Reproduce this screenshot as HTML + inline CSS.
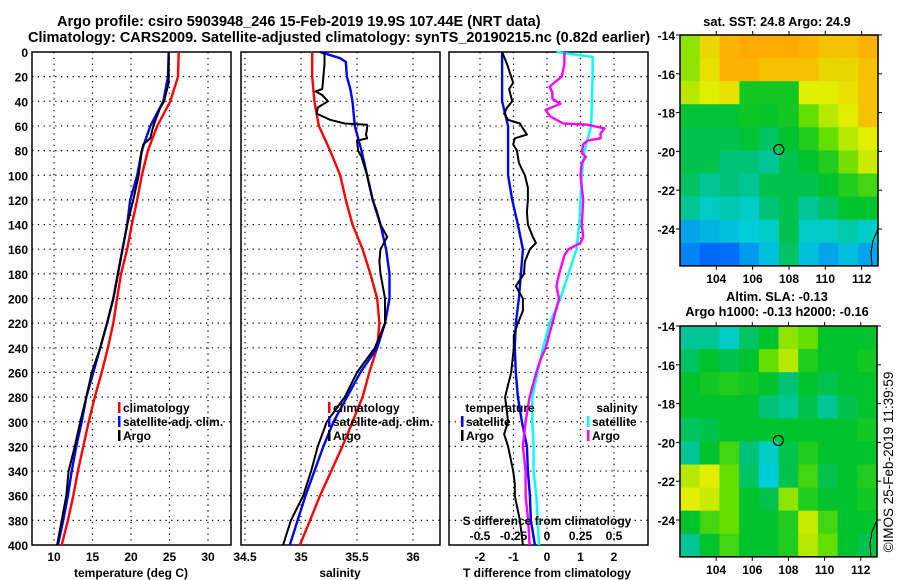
<!DOCTYPE html>
<html><head><meta charset="utf-8"><style>
html,body{margin:0;padding:0;background:#fff;}
svg{display:block;font-family:"Liberation Sans",sans-serif;font-weight:bold;}
</style></head><body>
<svg id="c" width="900" height="580" viewBox="0 0 900 580">
<text x="57" y="26" font-size="14.5" text-anchor="start">Argo profile: csiro 5903948_246 15-Feb-2019 19.9S 107.44E (NRT data)</text>
<text x="28" y="42" font-size="14.5" text-anchor="start">Climatology: CARS2009. Satellite-adjusted climatology: synTS_20190215.nc (0.82d earlier)</text>
<text x="777" y="26" font-size="12.8" text-anchor="middle">sat. SST: 24.8 Argo: 24.9</text>
<text x="777" y="301" font-size="12.8" text-anchor="middle">Altim. SLA: -0.13</text>
<text x="777" y="316" font-size="12.8" text-anchor="middle">Argo h1000: -0.13 h2000: -0.16</text>
<text transform="translate(893,462) rotate(-90)" font-size="13.5" font-weight="normal" text-anchor="middle">©IMOS 25-Feb-2019 11:39:59</text>
<g id="g"></g>
</svg>
<script>
// ---- data ----
const depths = [0,20,40,60,80,100,120,140,160,180,200,220,240,260,280,300,320,340,360,380,400];
const tClim = [26.2,26.1,25.1,23.4,22.2,21.4,20.8,20.1,19.5,18.7,18.2,17.7,17.0,16.2,15.3,14.5,13.8,13.1,12.5,11.8,11.0];
const tSat  = [24.9,24.8,24.2,22.5,21.4,20.8,19.9,19.5,18.9,18.3,17.7,16.9,16.0,15.1,14.2,13.6,12.9,12.3,11.8,11.2,10.5];
const argoDepthsT = [0,20,25,40,45,60,65,70,75,80,100,120,140,160,180,200,220,240,260,280,300,320,340,360,380,400];
const tArgo = [24.9,24.9,24.9,24.3,23.8,22.9,22.7,22.5,21.6,21.4,21.0,20.3,19.5,18.9,18.3,17.7,16.9,16.0,14.9,14.2,13.4,12.7,11.9,11.6,11.0,10.4];
const sClim = [35.10,35.10,35.12,35.16,35.26,35.35,35.40,35.46,35.55,35.62,35.68,35.70,35.68,35.61,35.55,35.46,35.37,35.27,35.17,35.08,34.99];
const sDepthsSat = [0,5,8,20,30,40,60,80,100,120,140,160,180,200,220,240,260,280,300,320,340,360,380,400];
const sSat = [35.17,35.35,35.40,35.41,35.44,35.46,35.48,35.54,35.59,35.64,35.71,35.76,35.79,35.79,35.75,35.68,35.53,35.41,35.29,35.20,35.12,35.04,34.97,34.90];
const argoDepthsS = [0,2,10,30,32,35,40,45,50,55,58,59,62,67,70,72,80,85,100,120,130,140,150,160,170,180,190,200,220,240,260,280,300,320,340,360,380,400];
const sArgo = [35.19,35.21,35.21,35.19,35.13,35.19,35.24,35.15,35.14,35.26,35.39,35.59,35.59,35.58,35.59,35.50,35.51,35.54,35.59,35.64,35.68,35.71,35.77,35.71,35.70,35.71,35.73,35.75,35.75,35.66,35.50,35.39,35.23,35.15,35.09,35.02,34.91,34.84];
const dTSat = [-1.34,-1.34,-1.34,-1.16,-1.16,-1.16,-1.04,-0.87,-0.72,-0.78,-0.84,-0.93,-0.96,-0.93,-0.87,-0.75,-0.60,-0.57,-0.51,-0.48,-0.36];
const dTArgoDepths = [0,10,20,25,30,40,45,50,55,58,62,67,70,75,80,90,100,110,120,130,140,150,155,160,170,180,190,200,210,220,230,240,260,270,280,300,310,320,340,350,360,380,400];
const dTArgo = [-1.34,-1.19,-1.07,-1.01,-1.13,-1.04,-1.19,-1.28,-1.16,-0.81,-0.72,-0.60,-0.96,-1.01,-0.90,-0.84,-0.66,-0.57,-0.57,-0.60,-0.57,-0.42,-0.33,-0.51,-0.66,-0.69,-0.93,-0.72,-0.72,-0.87,-0.99,-0.99,-1.07,-1.16,-1.25,-1.16,-1.28,-1.16,-1.01,-0.96,-0.96,-0.81,-0.72];
const dSSat = [0.07,0.34,0.34,0.33,0.28,0.26,0.25,0.24,0.22,0.16,0.10,0.02,-0.03,-0.07,-0.11,-0.11,-0.10,-0.10,-0.08,-0.07,-0.06];
const dSSatDepths = [0,4,20,60,80,100,120,140,160,180,200,220,240,260,280,300,320,340,360,380,400];
const dSArgoDepths = [0,10,20,28,33,38,42,47,52,58,59,62,66,70,72,75,82,85,90,100,120,140,150,155,160,165,180,190,200,220,240,250,260,280,300,320,340,360,380,400];
const dSArgo = [0.13,0.13,0.11,0.02,0.04,0.04,0.10,-0.01,0.02,0.12,0.30,0.43,0.40,0.40,0.30,0.27,0.26,0.29,0.26,0.25,0.27,0.26,0.27,0.25,0.16,0.13,0.09,0.07,0.09,0.04,-0.01,-0.05,-0.08,-0.13,-0.16,-0.18,-0.16,-0.16,-0.14,-0.13];
const depthTicks = [0,20,40,60,80,100,120,140,160,180,200,220,240,260,280,300,320,340,360,380,400];
const tTicks = [10,15,20,25,30];
const sTicks = [34.5,35,35.5,36];
const sTickLabels = ["34.5","35","35.5","36"];
const dTTicks = [-2,-1,0,1,2];
const dSTicks = [-0.5,-0.25,0,0.25,0.5];
const dSTickLabels = ["-0.5","-0.25","0","0.25","0.5"];
const lonTicks = [104,106,108,110,112];
const latTicks = [-14,-16,-18,-20,-22,-24];
const argoLon = 107.44, argoLat = -19.9;
const sstGrid = [
[0.65,0.8,0.88,0.9,0.9,0.9,0.88,0.85,0.85,0.88],
[0.65,0.78,0.88,0.88,0.85,0.85,0.85,0.8,0.8,0.85],
[0.7,0.75,0.78,0.48,0.48,0.48,0.75,0.75,0.78,0.85],
[0.44,0.44,0.44,0.47,0.46,0.48,0.6,0.7,0.75,0.85],
[0.42,0.42,0.42,0.44,0.4,0.45,0.5,0.6,0.7,0.75],
[0.42,0.42,0.38,0.38,0.35,0.42,0.45,0.5,0.62,0.72],
[0.4,0.35,0.38,0.35,0.42,0.42,0.42,0.45,0.5,0.55],
[0.35,0.3,0.32,0.3,0.38,0.42,0.35,0.4,0.45,0.45],
[0.22,0.24,0.26,0.28,0.3,0.42,0.3,0.3,0.33,0.3],
[0.17,0.13,0.14,0.2,0.26,0.4,0.26,0.22,0.26,0.22]];
const slaGrid = [
[0.35,0.35,0.3,0.4,0.45,0.65,0.6,0.45,0.45,0.45],
[0.4,0.45,0.42,0.45,0.6,0.7,0.5,0.45,0.45,0.48],
[0.45,0.48,0.5,0.48,0.45,0.38,0.45,0.42,0.45,0.45],
[0.45,0.45,0.45,0.45,0.38,0.35,0.42,0.35,0.42,0.45],
[0.4,0.42,0.45,0.45,0.45,0.45,0.45,0.45,0.45,0.48],
[0.35,0.45,0.55,0.38,0.3,0.42,0.5,0.45,0.45,0.45],
[0.7,0.75,0.6,0.4,0.28,0.42,0.55,0.42,0.45,0.5],
[0.75,0.72,0.6,0.45,0.42,0.65,0.5,0.45,0.45,0.48],
[0.45,0.55,0.6,0.45,0.45,0.5,0.72,0.55,0.45,0.45],
[0.35,0.45,0.55,0.45,0.45,0.5,0.7,0.6,0.45,0.42]];

// ---- helpers ----
const NS='http://www.w3.org/2000/svg';
const G=document.getElementById('g');
function mk(tag,attrs,parent){const e=document.createElementNS(NS,tag);for(const k in attrs)e.setAttribute(k,attrs[k]);(parent||G).appendChild(e);return e;}
const yTop=52, yBot=545;
const yD = d => yTop + d*(yBot-yTop)/400;
const xT = t => 54 + (t-10)*7.7;
const xS = s => 301 + (s-35)*112;
const xDT = v => 547 + v*33.5;
const xDS = v => 547 + v*134;

function frame(x0,x1,name){
  const r=mk('rect',{x:x0,y:yTop,width:x1-x0,height:yBot-yTop,fill:'none',stroke:'#000','stroke-width':1.5});
  
  
  for(const d of depthTicks){ if(d===0||d===400)continue;
    const l=mk('line',{x1:x0,x2:x1,y1:yD(d),y2:yD(d),stroke:'#000','stroke-dasharray':'1.3,4.5','stroke-width':1.2});
    
    
  }
}
function vgrid(xs,fn){
  for(const v of xs){const x=fn(v);
    const l=mk('line',{x1:x,x2:x,y1:yTop,y2:yBot,stroke:'#000','stroke-dasharray':'1.3,4.5','stroke-width':1.2});
    
    
  }
}
function line(ds,vs,fn,color,name,w){
  const pts=ds.map((d,i)=>fn(vs[i]).toFixed(1)+','+yD(d).toFixed(1)).join(' ');
  const p=mk('polyline',{points:pts,fill:'none',stroke:color,'stroke-width':w||2.4,'stroke-linejoin':'round'});
  
  
}
function txt(x,y,s,size,anchor,name){
  const t=mk('text',{x:x,y:y,'font-size':size,'text-anchor':anchor||'middle'});
  t.textContent=s;
  
  
  return t;
}
function legendRow(x,y,color,label,name){
  const r=mk('rect',{x:x,y:y-10,width:2.5,height:11,fill:color});
  
  
  txt(x+5,y,label,12,'start',name);
}

// ---- panel 1: temperature ----
frame(32,231,'temperature-panel');
vgrid(tTicks,xT);
line(depths,tClim,xT,'#ff0000','temp-climatology-line');
line(depths,tSat,xT,'#0000ff','temp-satellite-line');
line(argoDepthsT,tArgo,xT,'#000000','temp-argo-line',2);
for(const d of depthTicks) txt(28,yD(d)+5,String(d),12,'end','depth-tick-label');
for(const t of tTicks) txt(xT(t),561,String(t),12,'middle','temp-tick-label');
txt(131,577,'temperature (deg C)',12,'middle','temp-axis-title');
legendRow(118,412,'#ff0000','climatology','legend-climatology');
legendRow(118,426,'#0000ff','satellite-adj. clim.','legend-satellite-adj');
legendRow(118,440,'#000000','Argo','legend-argo');

// ---- panel 2: salinity ----
frame(241,440,'salinity-panel');
vgrid(sTicks,xS);
line(depths,sClim,xS,'#ff0000','sal-climatology-line');
line(sDepthsSat,sSat,xS,'#0000ff','sal-satellite-line');
line(argoDepthsS,sArgo,xS,'#000000','sal-argo-line',2);
sTicks.forEach((s,i)=>txt(xS(s),561,sTickLabels[i],12,'middle','sal-tick-label'));
txt(340,577,'salinity',12,'middle','sal-axis-title');
legendRow(328,412,'#ff0000','climatology','legend-sal-climatology');
legendRow(328,426,'#0000ff','satellite-adj. clim.','legend-sal-satellite-adj');
legendRow(328,440,'#000000','Argo','legend-sal-argo');

// ---- panel 3: differences ----
frame(449,648,'difference-panel');
vgrid(dTTicks,xDT);
line(depths,dTSat,xDT,'#0000ff','dt-satellite-line');
line(dTArgoDepths,dTArgo,xDT,'#000000','dt-argo-line',2);
line(dSSatDepths,dSSat,xDS,'#00ffff','ds-satellite-line');
line(dSArgoDepths,dSArgo,xDS,'#ff00ff','ds-argo-line');
for(const v of dTTicks) txt(xDT(v),561,String(v),12,'middle','dt-tick-label');
dSTicks.forEach((v,i)=>txt(xDS(v),540,dSTickLabels[i],12,'middle','ds-tick-label'));
txt(547,525,'S difference from climatology',12,'middle','ds-axis-title');
txt(547,577,'T difference from climatology',12,'middle','dt-axis-title');
txt(500,412,'temperature',12,'middle','legend-temperature-header');
txt(617,412,'salinity',12,'middle','legend-salinity-header');
legendRow(461,426,'#0000ff','satellite','legend-dt-satellite');
legendRow(461,440,'#000000','Argo','legend-dt-argo');
legendRow(587,426,'#00ffff','satellite','legend-ds-satellite');
legendRow(587,440,'#ff00ff','Argo','legend-ds-argo');

// ---- maps ----
const stops=[[0,[0,0,200]],[0.15,[0,120,255]],[0.28,[0,205,215]],[0.38,[0,195,120]],[0.45,[0,195,45]],[0.6,[100,222,0]],[0.75,[225,238,0]],[0.9,[255,170,0]],[1,[255,120,0]]];
function cmap(v){for(let i=1;i<stops.length;i++){if(v<=stops[i][0]){const a=stops[i-1],b=stops[i],f=(v-a[0])/(b[0]-a[0]);return 'rgb('+a[1].map((c,k)=>Math.round(c+(b[1][k]-c)*f)).join(',')+')';}}return 'rgb(255,120,0)';}
function map(grid,x0,x1,yTopM,y24,name){
  const lonL=102.0, lonR=112.9;
  const latB=-25.9;
  const xL=lon=>x0+(lon-lonL)*(x1-x0)/(lonR-lonL);
  const pxDeg=(y24-yTopM)/10;
  const yL=lat=>yTopM+(-14-lat)*pxDeg;
  const yB=yL(latB);
  const rows=grid.length, cols=grid[0].length;
  const cw=(x1-x0)/cols, ch=(yB-yTopM)/rows;
  const g=mk('g',{});
  
  
  grid.forEach((row,r)=>row.forEach((v,c)=>{
    const cell=mk('rect',{x:x0+c*cw,y:yTopM+r*ch,width:cw+0.6,height:ch+0.6,fill:cmap(v)},g);
    
    
  }));
  const fr=mk('rect',{x:x0,y:yTopM,width:x1-x0,height:yB-yTopM,fill:'none',stroke:'#000','stroke-width':1.5});
  
  
  for(const lat of latTicks){const y=yL(lat);
    mk('line',{x1:x0-4,x2:x0,y1:y,y2:y,stroke:'#000'});mk('line',{x1:x1,x2:x1+4,y1:y,y2:y,stroke:'#000'});
    txt(x0-5,y+5,String(lat),12,'end','lat-tick-label');}
  for(const lon of lonTicks){const x=xL(lon);
    mk('line',{x1:x,x2:x,y1:yTopM-4,y2:yTopM,stroke:'#000'});mk('line',{x1:x,x2:x,y1:yB,y2:yB+4,stroke:'#000'});
    txt(x,yB+17,String(lon),12,'middle','lon-tick-label');}
  const m=mk('circle',{cx:xL(argoLon),cy:yL(argoLat),r:5,fill:'none',stroke:'#000','stroke-width':1.2});
  
  
  const coast=mk('polyline',{points:[[x1,yL(-24)],[x1-5,yL(-24.6)],[x1-7,yL(-25.2)],[x1-6,yL(-25.9)]].map(p=>p.join(',')).join(' '),fill:'none',stroke:'#000','stroke-width':1});
  
  
}
map(sstGrid,680,878,35,229,'sst-map');
map(slaGrid,680,877,326,520,'sla-map');
</script>
</body></html>
